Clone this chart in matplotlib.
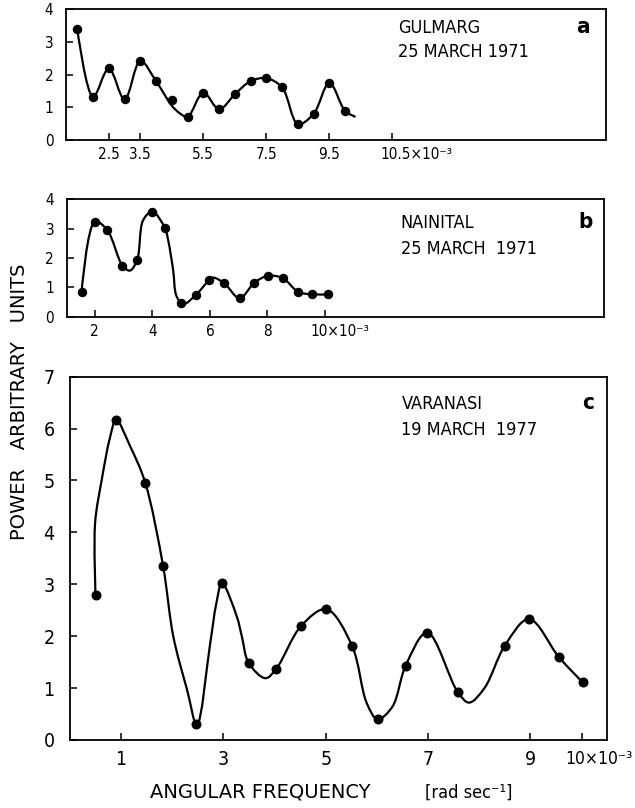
"""Power spectra of ionospheric oscillations at three stations.

Redraws the three stacked panels (Gulmarg, Nainital, Varanasi) with
dots at the measured points and a smooth hand-drawn-style curve.
"""

import matplotlib

matplotlib.use("Agg")

import matplotlib.pyplot as plt
import numpy as np
from matplotlib.patches import PathPatch
from matplotlib.path import Path
from matplotlib.transforms import ScaledTranslation

plt.rcParams["font.family"] = ["DejaVu Sans"]
plt.rcParams["font.stretch"] = "condensed"

# --- panel a: Gulmarg, 25 March 1971 ---
gul_x = [1.5, 2.0, 2.5, 3.0, 3.5, 4.0, 4.5, 5.0, 5.5,
         6.0, 6.5, 7.0, 7.5, 8.0, 8.5, 9.0, 9.5, 10.0]
gul_y = [3.39, 1.32, 2.19, 1.24, 2.42, 1.80, 1.22, 0.71, 1.45,
         0.94, 1.40, 1.80, 1.89, 1.61, 0.49, 0.80, 1.75, 0.89]
gul_curve_x = [1.5, 2.0, 2.5, 3.0, 3.5, 4.0, 4.5, 4.75, 5.0, 5.5, 6.0,
               6.5, 7.0, 7.5, 8.0, 8.5, 9.0, 9.5, 10.0, 10.33]
gul_curve_y = [3.39, 1.32, 2.19, 1.24, 2.42, 1.80, 1.05, 0.82, 0.71, 1.45,
               0.94, 1.40, 1.80, 1.89, 1.61, 0.49, 0.80, 1.75, 0.89, 0.71]
gul_ticks = [2.5, 3.5, 5.5, 7.5, 9.5, 11.5]
gul_ticklabels = ["2.5", "3.5", "5.5", "7.5", "9.5", "10.5×10⁻³"]

# --- panel b: Nainital, 25 March 1971 ---
nai_x = [1.54, 2.0, 2.43, 2.96, 3.47, 4.0, 4.43, 4.99, 5.51,
         5.98, 6.5, 7.03, 7.55, 8.02, 8.54, 9.06, 9.55, 10.1]
nai_y = [0.85, 3.24, 2.95, 1.74, 1.93, 3.58, 3.03, 0.46, 0.74,
         1.25, 1.14, 0.63, 1.16, 1.39, 1.31, 0.85, 0.76, 0.76]
nai_curve_x = [1.54, 2.0, 2.43, 2.96, 3.22, 3.47, 3.68, 4.0, 4.43, 4.55,
               4.72, 4.84, 5.08, 5.51, 5.98, 6.11, 6.5, 7.03, 7.55, 8.02,
               8.54, 9.06, 9.55, 10.1]
nai_curve_y = [0.85, 3.24, 2.95, 1.74, 1.57, 1.93, 3.29, 3.58, 3.03, 2.6,
               1.6, 0.7, 0.43, 0.74, 1.25, 1.33, 1.14, 0.63, 1.16, 1.39,
               1.31, 0.85, 0.76, 0.76]
nai_ticks = [2, 4, 6, 8, 10]
nai_ticklabels = ["2", "4", "6", "8", "10×10⁻³"]

# --- panel c: Varanasi, 19 March 1977 ---
var_x = [0.5, 0.9, 1.47, 1.82, 2.47, 2.97, 3.49, 4.03, 4.52, 5.01,
         5.51, 6.01, 6.56, 6.98, 7.58, 8.5, 8.97, 9.56, 10.02]
var_y = [2.79, 6.17, 4.96, 3.35, 0.31, 3.02, 1.49, 1.37, 2.20, 2.52,
         1.82, 0.40, 1.43, 2.07, 0.92, 1.82, 2.33, 1.59, 1.11]
var_curve_x = [0.5, 0.49, 0.62, 0.785, 0.9, 1.18, 1.47, 1.82, 2.02, 2.29,
               2.48, 2.74, 2.86, 2.97, 3.26, 3.36, 3.49, 3.82, 4.03, 4.52,
               5.01, 5.51, 5.80, 6.01, 6.30, 6.56, 6.98, 7.58, 7.80, 8.10,
               8.50, 8.97, 9.56, 10.02]
var_curve_y = [2.79, 4.17, 5.01, 5.84, 6.17, 5.65, 4.96, 3.35, 1.99, 0.96,
               0.29, 1.86, 2.63, 3.02, 2.38, 1.99, 1.49, 1.19, 1.37, 2.20,
               2.52, 1.82, 0.71, 0.40, 0.64, 1.43, 2.07, 0.92, 0.72, 1.00,
               1.82, 2.33, 1.59, 1.11]
var_ticks = [1, 3, 5, 7, 9, 10]
var_ticklabels = ["1", "3", "5", "7", "9", "10×10⁻³"]


def smooth_path(ax, xs, ys):
    """Centripetal Catmull-Rom curve through the knots, as Bezier segments.

    Knot spacing is measured on screen so the curve bends evenly.
    """
    p = np.column_stack([xs, ys]).astype(float)
    q = ax.transData.transform(p)
    p = np.vstack([p[0], p, p[-1]])
    q = np.vstack([q[0], q, q[-1]])
    verts = [p[1]]
    codes = [Path.MOVETO]
    for i in range(len(p) - 3):
        p0, p1, p2, p3 = p[i], p[i + 1], p[i + 2], p[i + 3]
        d0 = max(np.hypot(*(q[i + 1] - q[i])) ** 0.5, 1e-6)
        d1 = max(np.hypot(*(q[i + 2] - q[i + 1])) ** 0.5, 1e-6)
        d2 = max(np.hypot(*(q[i + 3] - q[i + 2])) ** 0.5, 1e-6)
        m1 = ((p1 - p0) / d0 - (p2 - p0) / (d0 + d1) + (p2 - p1) / d1) * d1
        m2 = ((p2 - p1) / d1 - (p3 - p1) / (d1 + d2) + (p3 - p2) / d2) * d1
        verts += [p1 + m1 / 3, p2 - m2 / 3, p2]
        codes += [Path.CURVE4] * 3
    return Path(verts, codes)


def draw_panel(fig, rect, xs, ys, cx, cy, xlim, ylim, xticks, xlabels,
               station, date, letter, tsize, ypad, xpad, last_dx,
               text_pos, ms):
    """Draw one spectrum panel."""
    ax = fig.add_axes(rect)
    ax.set_xlim(*xlim)
    ax.set_ylim(*ylim)
    ax.add_patch(PathPatch(smooth_path(ax, cx, cy), facecolor="none",
                           edgecolor="black", lw=1.6, zorder=2))
    ax.plot(xs, ys, "o", color="black", ms=ms, zorder=3)
    ax.set_xticks(xticks)
    ax.set_xticklabels(xlabels)
    ax.set_yticks(range(int(ylim[1]) + 1))
    ax.tick_params(direction="in", length=5, width=1.1, labelsize=tsize)
    ax.tick_params(axis="y", pad=ypad)
    ax.tick_params(axis="x", pad=xpad)
    for sp in ax.spines.values():
        sp.set_linewidth(1.3)
    last = ax.get_xticklabels()[-1]
    last.set_fontsize(min(tsize, 12.5))
    last.set_transform(last.get_transform()
                       + ScaledTranslation(last_dx / 100, 0,
                                           fig.dpi_scale_trans))
    tx, ty1, ty2, lx = text_pos
    ax.text(tx, ty1, station, transform=ax.transAxes, fontsize=13,
            va="baseline", ha="left")
    ax.text(tx, ty2, date, transform=ax.transAxes, fontsize=13,
            va="baseline", ha="left")
    ax.text(lx, ty1, letter, transform=ax.transAxes, fontsize=16,
            va="baseline", ha="center", fontweight="bold")
    return ax


def main():
    """Build the figure and save it."""
    fig = plt.figure(figsize=(6.35, 8.08), dpi=100)

    draw_panel(fig, [0.1039, 0.8267, 0.8504, 0.1618], gul_x, gul_y,
               gul_curve_x, gul_curve_y, (1.14, 18.28), (0, 4),
               gul_ticks, gul_ticklabels, "GULMARG", "25 MARCH 1971", "a",
               11, 9, 5, 24, (0.615, 0.816, 0.637, 0.957), 5.8)

    draw_panel(fig, [0.105, 0.6081, 0.8461, 0.1453], nai_x, nai_y,
               nai_curve_x, nai_curve_y, (1.02, 19.7), (0, 4),
               nai_ticks, nai_ticklabels, "NAINITAL", "25 MARCH  1971", "b",
               11, 9, 5, 15, (0.622, 0.753, 0.534, 0.965), 5.8)

    draw_panel(fig, [0.1102, 0.0842, 0.8461, 0.4496], var_x, var_y,
               var_curve_x, var_curve_y, (0, 10.5), (0, 7),
               var_ticks, var_ticklabels, "VARANASI", "19 MARCH  1977", "c",
               14, 11, 7, 17, (0.617, 0.910, 0.8395, 0.964), 6.2)

    fig.text(20 / 635, 1 - 402 / 808, "POWER   ARBITRARY   UNITS",
             rotation=90, ha="center", va="center", fontsize=14,
             fontstretch="normal")
    fig.text(150 / 635, 1 - 798 / 808, "ANGULAR FREQUENCY",
             ha="left", va="baseline", fontsize=14, fontstretch="normal")
    fig.text(425 / 635, 1 - 798 / 808, "[rad sec⁻¹]",
             ha="left", va="baseline", fontsize=13)

    fig.savefig("out.png", dpi=100)


if __name__ == "__main__":
    main()
